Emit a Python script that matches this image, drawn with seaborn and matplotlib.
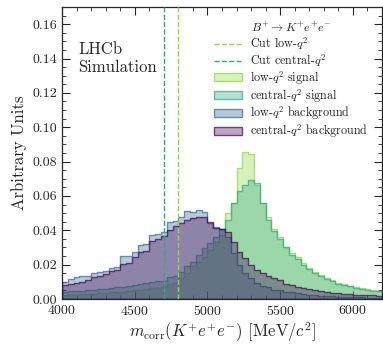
import numpy as np
import pandas as pd
import matplotlib
matplotlib.use("Agg")
import matplotlib.pyplot as plt
import seaborn as sns
from matplotlib.colors import to_rgba
from matplotlib.lines import Line2D
from matplotlib.patches import Patch

# bin edges of the corrected mass (MeV/c^2), 40 MeV bins
edges = list(range(4000, 6201, 40))
centres = [e + 20 for e in edges[:-1]]

low_sig = [0.0023, 0.0024, 0.0026, 0.0027, 0.0029, 0.0030, 0.0033, 0.0035, 0.0038, 0.0040,
           0.0043, 0.0046, 0.0050, 0.0054, 0.0058, 0.0062, 0.0066, 0.0070, 0.0088, 0.0092,
           0.0120, 0.0150, 0.0190, 0.0218, 0.0247, 0.0286, 0.0334, 0.0370, 0.0500, 0.0560,
           0.0760, 0.0855, 0.0845, 0.0665, 0.0560, 0.0475, 0.0410, 0.0360, 0.0305, 0.0268,
           0.0245, 0.0210, 0.0180, 0.0155, 0.0140, 0.0122, 0.0110, 0.0095, 0.0086, 0.0078,
           0.0070, 0.0062, 0.0056, 0.0052, 0.0048]
central_sig = [0.0043, 0.0045, 0.0047, 0.0049, 0.0052, 0.0055, 0.0057, 0.0061, 0.0065, 0.0069,
               0.0072, 0.0076, 0.0080, 0.0087, 0.0093, 0.0100, 0.0105, 0.0107, 0.0130, 0.0132,
               0.0160, 0.0190, 0.0218, 0.0256, 0.0296, 0.0325, 0.0363, 0.0410, 0.0460, 0.0560,
               0.0630, 0.0665, 0.0690, 0.0675, 0.0560, 0.0460, 0.0395, 0.0350, 0.0300, 0.0258,
               0.0235, 0.0198, 0.0172, 0.0150, 0.0133, 0.0116, 0.0104, 0.0090, 0.0081, 0.0073,
               0.0065, 0.0058, 0.0052, 0.0048, 0.0044]
low_bkg = [0.0100, 0.0115, 0.0130, 0.0134, 0.0136, 0.0152, 0.0155, 0.0165, 0.0183, 0.0186,
           0.0248, 0.0252, 0.0276, 0.0313, 0.0318, 0.0375, 0.0380, 0.0390, 0.0450, 0.0455,
           0.0478, 0.0515, 0.0505, 0.0518, 0.0505, 0.0445, 0.0420, 0.0410, 0.0360, 0.0270,
           0.0200, 0.0150, 0.0120, 0.0093, 0.0078, 0.0068, 0.0055, 0.0050, 0.0043, 0.0038,
           0.0033, 0.0030, 0.0026, 0.0023, 0.0020, 0.0018, 0.0016, 0.0014, 0.0012, 0.0011,
           0.0010, 0.0009, 0.0008, 0.0007, 0.0006]
central_bkg = [0.0082, 0.0086, 0.0095, 0.0100, 0.0110, 0.0128, 0.0132, 0.0146, 0.0163, 0.0168,
               0.0205, 0.0210, 0.0247, 0.0272, 0.0280, 0.0340, 0.0348, 0.0365, 0.0400, 0.0425,
               0.0440, 0.0462, 0.0470, 0.0480, 0.0478, 0.0450, 0.0415, 0.0405, 0.0390, 0.0330,
               0.0276, 0.0240, 0.0200, 0.0170, 0.0150, 0.0135, 0.0120, 0.0108, 0.0090, 0.0080,
               0.0072, 0.0063, 0.0056, 0.0050, 0.0045, 0.0040, 0.0037, 0.0034, 0.0031, 0.0029,
               0.0026, 0.0024, 0.0022, 0.0021, 0.0020]

cut_low = 4800
cut_central = 4700

c_lowsig = '#8fd744'
c_censig = '#2fa884'
c_lowbkg = '#31688e'
c_cenbkg = '#440154'
face_alpha = 0.35
edge_alpha = 0.7

sns.set_style('ticks')
plt.rcParams['font.family'] = 'serif'
plt.rcParams['font.serif'] = ['cmr10']
plt.rcParams['mathtext.fontset'] = 'cm'
plt.rcParams['axes.formatter.use_mathtext'] = True
plt.rcParams['axes.unicode_minus'] = False

fig = plt.figure(figsize=(3.83, 3.44), dpi=100)
ax = fig.add_axes([62/383, 45/344, 320/383, 292/344])

series = [(low_sig, c_lowsig, r'low-$q^2$ signal'),
          (central_sig, c_censig, r'central-$q^2$ signal'),
          (low_bkg, c_lowbkg, r'low-$q^2$ background'),
          (central_bkg, c_cenbkg, r'central-$q^2$ background')]

for vals, col, lab in series:
    df = pd.DataFrame({'m': centres, 'w': vals})
    sns.histplot(data=df, x='m', weights='w', bins=edges, element='step', fill=True,
                 facecolor=to_rgba(col, face_alpha), edgecolor=to_rgba(col, edge_alpha),
                 linewidth=1.0, ax=ax)

ax.axvline(cut_low, color=c_lowsig, ls='--', lw=1.0, zorder=5)
ax.axvline(cut_central, color=c_censig, ls='--', lw=1.0, zorder=5)

ax.set_xlim(4000, 6200)
ax.set_ylim(0, 0.17)
ax.set_xticks([4000, 4500, 5000, 5500, 6000])
yt = np.arange(0, 0.161, 0.02)
ax.set_yticks(yt)
ax.set_yticklabels([f'{v:.2f}' for v in yt])
ax.xaxis.set_minor_locator(matplotlib.ticker.MultipleLocator(100))
ax.yaxis.set_minor_locator(matplotlib.ticker.MultipleLocator(0.005))
ax.tick_params(which='both', direction='in', top=True, right=True, labelsize=10)
ax.tick_params(which='major', length=6, width=0.8)
ax.tick_params(which='minor', length=3, width=0.6)
for s in ax.spines.values():
    s.set_linewidth(0.9)

ax.set_xlabel(r'$m_{\rm corr}(K^{+}e^{+}e^{-})$ [MeV$/c^2$]', fontsize=12, labelpad=2)
ax.set_ylabel('Arbitrary Units', fontsize=12, labelpad=4)

ax.text(0.05, 0.88, 'LHCb\nSimulation', transform=ax.transAxes, fontsize=12,
        va='top', ha='left', linespacing=1.15)

handles = [Line2D([0], [0], color=c_lowsig, ls='--', lw=1.0),
           Line2D([0], [0], color=c_censig, ls='--', lw=1.0)]
labels = [r'Cut low-$q^2$', r'Cut central-$q^2$']
for vals, col, lab in series:
    handles.append(Patch(facecolor=to_rgba(col, face_alpha), edgecolor=to_rgba(col, edge_alpha),
                         linewidth=1.0))
    labels.append(lab)
ax.legend(handles, labels, title=r'$B^{+}\to K^{+}e^{+}e^{-}$', loc='upper left',
          bbox_to_anchor=(0.46, 0.97), frameon=False, fontsize=8.7, title_fontsize=8.7,
          handlelength=2.3, handleheight=0.6, labelspacing=0.0, handletextpad=0.7,
          borderaxespad=0.0, borderpad=0.4)

fig.savefig('out.png', dpi=100)
